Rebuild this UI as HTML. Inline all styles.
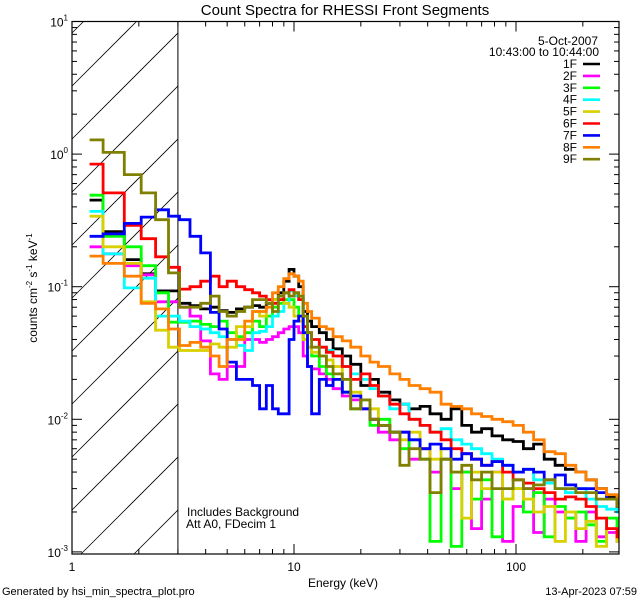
<!DOCTYPE html>
<html><head><meta charset="utf-8">
<style>
html,body{margin:0;padding:0;background:#fff;width:640px;height:600px;overflow:hidden;}
svg{display:block;font-family:"Liberation Sans",sans-serif;}
</style></head>
<body>
<svg id="chart" width="640" height="600" viewBox="0 0 640 600" xmlns="http://www.w3.org/2000/svg">
<defs id="defs"></defs>
<rect x="0" y="0" width="640" height="600" fill="#fff"/>
<text x="345" y="15" font-size="15" text-anchor="middle">Count Spectra for RHESSI Front Segments</text>
<g id="hatch"></g>
<g id="series"></g>
<g id="axes"></g>
<text transform="translate(37,288) rotate(-90)" font-size="12" text-anchor="middle">counts cm<tspan font-size="8" dy="-5">-2</tspan><tspan dy="5"> s</tspan><tspan font-size="8" dy="-5">-1</tspan><tspan dy="5"> keV</tspan><tspan font-size="8" dy="-5">-1</tspan></text>
<text x="343" y="587" font-size="12" text-anchor="middle">Energy (keV)</text>
<text x="187" y="516" font-size="12">Includes Background</text>
<text x="186" y="528" font-size="12">Att A0, FDecim 1</text>
<text x="2" y="595" font-size="11">Generated by hsi_min_spectra_plot.pro</text>
<text x="637" y="595" font-size="11" text-anchor="end">13-Apr-2023 07:59</text>
<text x="598" y="45" font-size="12" text-anchor="end">5-Oct-2007</text>
<text x="599" y="56" font-size="12" text-anchor="end">10:43:00 to 10:44:00</text>
<g id="legend"></g>
</svg>
<script>
const edges=[1.2,1.38,1.72,2.05,2.38,2.72,3.05,3.4,3.8,4.2,4.6,5.0,5.5,6.0,6.5,7.0,7.5,8.0,8.5,9.0,9.5,10.0,10.5,11,11.5,12,13,14,15,16.5,18,20,22,24,27,30,33,37,41,46,51,57,63,70,78,87,97,108,120,134,150,167,186,207,230,256,285,305];
const seriesNames=["1F","2F","3F","4F","5F","6F","7F","8F","9F"];
const seriesColors=["#000000","#ff00ff","#00ff00","#00ffff","#d8d000","#ff0000","#0000ff","#ff8000","#808000"];
const s1F=[0.45,0.26,0.16,0.125,0.093,0.093,0.075,0.072,0.068,0.07,0.066,0.064,0.068,0.07,0.072,0.07,0.075,0.08,0.09,0.11,0.135,0.12,0.1,0.065,0.055,0.05,0.045,0.04,0.034,0.03,0.026,0.018,0.02,0.016,0.014,0.013,0.012,0.0125,0.011,0.01,0.012,0.009,0.008,0.0085,0.0075,0.007,0.0068,0.006,0.0065,0.005,0.0045,0.0042,0.004,0.0035,0.003,0.0026,0.0021];
const s2F=[0.2,0.177,0.144,0.123,0.077,0.077,0.07,0.06,0.039,0.022,0.02,0.025,0.025,0.04,0.04,0.038,0.04,0.042,0.045,0.048,0.05,0.05,0.045,0.03,0.025,0.024,0.022,0.02,0.017,0.015,0.014,0.012,0.01,0.008,0.007,0.008,0.005,0.006,0.004,0.005,0.003,0.004,0.0015,0.0025,0.004,0.0012,0.0022,0.003,0.0014,0.0025,0.002,0.0018,0.0012,0.002,0.0013,0.0014,0.0012];
const s3F=[0.49,0.24,0.2,0.144,0.09,0.054,0.054,0.055,0.052,0.05,0.055,0.045,0.042,0.045,0.055,0.05,0.06,0.07,0.075,0.08,0.08,0.07,0.06,0.04,0.035,0.03,0.025,0.022,0.02,0.016,0.012,0.014,0.009,0.01,0.008,0.006,0.007,0.005,0.0012,0.005,0.0011,0.004,0.0025,0.0035,0.0013,0.0025,0.003,0.002,0.0028,0.0013,0.0022,0.0018,0.002,0.0016,0.0012,0.0018,0.0015];
const s4F=[0.37,0.177,0.098,0.116,0.06,0.06,0.055,0.05,0.048,0.045,0.042,0.04,0.036,0.033,0.045,0.046,0.05,0.06,0.065,0.075,0.093,0.085,0.08,0.05,0.045,0.04,0.035,0.033,0.03,0.025,0.022,0.02,0.017,0.015,0.012,0.013,0.01,0.009,0.008,0.0085,0.007,0.0065,0.006,0.0055,0.005,0.0045,0.004,0.0042,0.0035,0.0033,0.003,0.0028,0.003,0.0025,0.0022,0.0021,0.002];
const s5F=[0.34,0.2,0.15,0.077,0.047,0.035,0.033,0.033,0.033,0.037,0.035,0.035,0.05,0.05,0.065,0.06,0.07,0.08,0.08,0.075,0.07,0.06,0.055,0.04,0.035,0.032,0.03,0.028,0.025,0.02,0.016,0.014,0.012,0.009,0.008,0.007,0.008,0.006,0.005,0.006,0.004,0.0018,0.004,0.003,0.004,0.0025,0.003,0.0025,0.002,0.0022,0.0012,0.002,0.0015,0.0017,0.0011,0.0015,0.0012];
const s6F=[0.84,0.51,0.29,0.23,0.168,0.14,0.096,0.1,0.11,0.12,0.1,0.11,0.1,0.095,0.09,0.085,0.08,0.075,0.08,0.09,0.095,0.09,0.08,0.05,0.045,0.04,0.035,0.032,0.03,0.025,0.02,0.022,0.018,0.015,0.013,0.011,0.01,0.009,0.008,0.007,0.006,0.0055,0.005,0.0045,0.0048,0.004,0.0035,0.0033,0.003,0.0028,0.0025,0.0026,0.0025,0.0022,0.0018,0.0015,0.0013];
const s7F=[0.24,0.25,0.30,0.335,0.38,0.34,0.32,0.24,0.18,0.064,0.048,0.027,0.02,0.02,0.018,0.012,0.018,0.012,0.011,0.011,0.04,0.055,0.06,0.045,0.025,0.011,0.02,0.018,0.02,0.016,0.015,0.012,0.01,0.009,0.008,0.008,0.007,0.006,0.0065,0.006,0.005,0.0055,0.005,0.0045,0.0048,0.0045,0.004,0.0042,0.004,0.0035,0.0038,0.0032,0.003,0.003,0.0028,0.0025,0.0022];
const s8F=[0.17,0.15,0.12,0.075,0.068,0.048,0.036,0.038,0.035,0.03,0.025,0.04,0.04,0.055,0.065,0.065,0.07,0.09,0.1,0.115,0.125,0.12,0.11,0.075,0.065,0.058,0.05,0.048,0.042,0.039,0.035,0.03,0.027,0.025,0.022,0.02,0.018,0.017,0.016,0.013,0.0125,0.012,0.011,0.0105,0.01,0.0096,0.009,0.008,0.007,0.0057,0.0055,0.0045,0.004,0.0035,0.003,0.0027,0.0025];
const s9F=[1.28,1.03,0.70,0.51,0.32,0.127,0.07,0.07,0.075,0.085,0.065,0.06,0.065,0.07,0.08,0.08,0.075,0.065,0.085,0.09,0.085,0.09,0.085,0.06,0.045,0.035,0.03,0.025,0.022,0.02,0.012,0.014,0.01,0.009,0.008,0.0045,0.006,0.005,0.0028,0.005,0.004,0.0045,0.0035,0.004,0.003,0.003,0.0035,0.003,0.0032,0.0035,0.003,0.003,0.0028,0.0028,0.0025,0.0025,0.0022];
const seriesData=[s1F,s2F,s3F,s4F,s5F,s6F,s7F,s8F,s9F];
const yTickExps=[1,0,-1,-2,-3];
const xTickLabels=["1","10","100"];
const xTickVals=[1,10,100];

const NS="http://www.w3.org/2000/svg";
const L=72,R=619,T=21.5,B=554;
const X0=1,X1=Math.pow(10,(R-L)/222);
function xs(e){return L+(Math.log10(e)-Math.log10(X0))*222;}
function ys(v){return T+(1-Math.log10(v))*132.6;}
function mk(tag,attrs,parent){const el=document.createElementNS(NS,tag);for(const k in attrs)el.setAttribute(k,attrs[k]);parent.appendChild(el);return el;}
const defs=document.getElementById('defs');

// hatch (lines clipped analytically to region)
const hatch=document.getElementById('hatch');
const HX=xs(3);
for(let k=-3;k<20;k++){
  const y0=86+k*53; // y at x=L ; line y = y0 - (x-L)
  let xa=L, xb=HX;
  xa=Math.max(xa, L+(y0-B));   // y<=B
  xb=Math.min(xb, L+(y0-T));   // y>=T
  if(xb<=xa) continue;
  const ln=mk('line',{x1:xa,y1:y0-(xa-L),x2:xb,y2:y0-(xb-L),stroke:'#000','stroke-width':0.8},hatch);
  
  
}
const vl=mk('line',{x1:HX,y1:T,x2:HX,y2:B,stroke:'#000','stroke-width':1},hatch);



// series
const sg=document.getElementById('series');
const sclip=mk('clipPath',{id:'pclip'},defs);
mk('rect',{x:L,y:T,width:R-L,height:B-T},sclip);
sg.setAttribute('clip-path','url(#pclip)');
function yc(v){return Math.min(B,Math.max(T,ys(v)));}
seriesData.forEach((vals,i)=>{
  let d='';
  const n=Math.min(vals.length,edges.length-1);
  for(let j=0;j<n;j++){
    const y=yc(vals[j]);
    const xa=Math.min(R,xs(edges[j])), xb=Math.min(R,xs(edges[j+1]));
    d+=(j===0?'M':'L')+xa.toFixed(1)+','+y.toFixed(1)+'L'+xb.toFixed(1)+','+y.toFixed(1);
  }
  const p=mk('path',{d:d,fill:'none',stroke:seriesColors[i],'stroke-width':2.8,'stroke-linejoin':'miter'},sg);
  
  
});

// axes
const ax=document.getElementById('axes');
const box=mk('rect',{x:L,y:T,width:R-L,height:B-T,fill:'none',stroke:'#000','stroke-width':1.2},ax);


for(let e=-3;e<1;e++){
  for(let m=1;m<10;m++){
    const y=ys(m*Math.pow(10,e));
    const len=m===1?10:5;
    mk('line',{x1:L,y1:y,x2:L+len,y2:y,stroke:'#000','stroke-width':1},ax);
    mk('line',{x1:R,y1:y,x2:R-len,y2:y,stroke:'#000','stroke-width':1},ax);
  }
}
yTickExps.forEach(e=>{
  const y=ys(Math.pow(10,e));
  const t=mk('text',{x:L-4,y:y+5,'font-size':12,'text-anchor':'end'},ax);
  
  
  t.innerHTML='10<tspan font-size="8" dy="-6">'+e+'</tspan>';
});
for(let e=0;e<3;e++){
  for(let m=1;m<10;m++){
    const v=m*Math.pow(10,e);
    if(v>X1)break;
    const x=xs(v);
    const len=m===1?10:5;
    mk('line',{x1:x,y1:B,x2:x,y2:B-len,stroke:'#000','stroke-width':1},ax);
    mk('line',{x1:x,y1:T,x2:x,y2:T+len,stroke:'#000','stroke-width':1},ax);
  }
}
xTickVals.forEach((v,i)=>{
  const t=mk('text',{x:xs(v),y:571,'font-size':12,'text-anchor':'middle'},ax);
  
  
  t.textContent=xTickLabels[i];
});

// legend
const lg=document.getElementById('legend');
seriesNames.forEach((nm,i)=>{
  const y=64+i*11.9;
  const t=mk('text',{x:577,y:y+4,'font-size':12,'text-anchor':'end'},lg);
  
  
  t.textContent=nm;
  const l=mk('line',{x1:583,y1:y,x2:600,y2:y,stroke:seriesColors[i],'stroke-width':2.6},lg);
  
  
});
</script>
</body></html>
